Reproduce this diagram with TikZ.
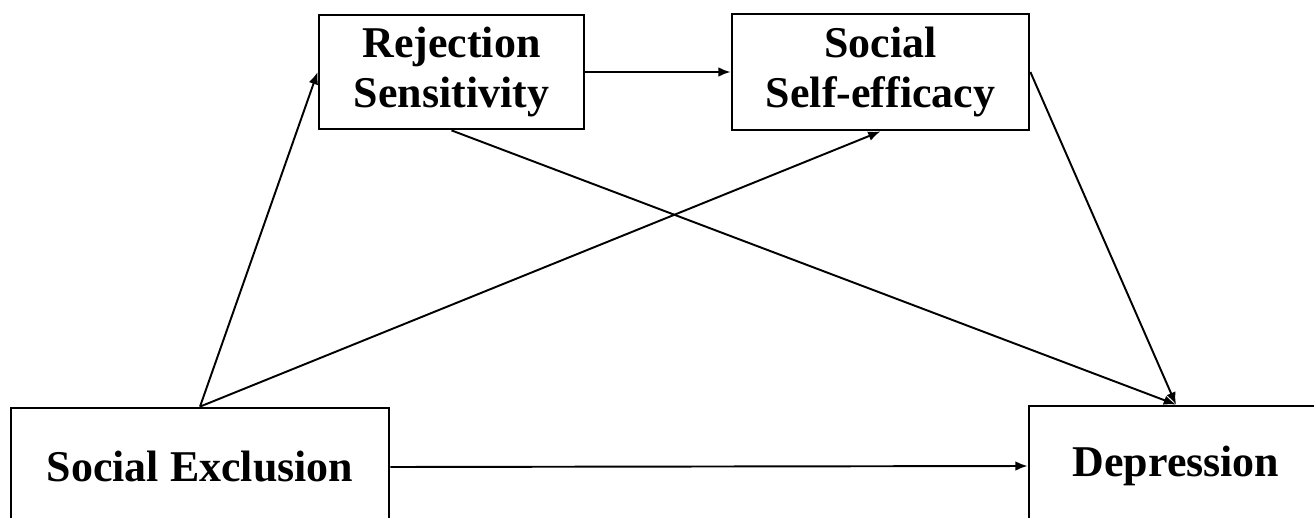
\documentclass[tikz,border=0pt]{standalone}
\usepackage{fontspec}
\setmainfont{Liberation Serif}
\usetikzlibrary{arrows.meta}
\begin{document}
\begin{tikzpicture}[x=0.02cm, y=-0.02cm, font=\bfseries\fontsize{25}{29}\selectfont,
        box/.style={draw, line width=1.6pt, rectangle, align=center, inner sep=0pt},
        path/.style={line width=1.1pt, -{Latex[length=7pt, width=5.5pt]}}]
    \useasboundingbox (0,0) rectangle (1314,517);
    \clip (0,0) rectangle (1314,517);
    \node[box, minimum width=7.56cm, minimum height=2.36cm] (exclusion) at (200,467) {Social Exclusion};
    \node[box, minimum width=5.88cm, minimum height=2.4cm] (depression) at (1176,466) {Depression};
    \node[box, minimum width=5.3cm, minimum height=2.28cm] (rejection) at (451.5,72) {Rejection\\Sensitivity};
    \node[box, minimum width=5.94cm, minimum height=2.32cm] (efficacy) at (880.5,72) {Social\\Self-efficacy};
    \draw[path] (exclusion.north) -- (rejection.west);
    \draw[path] (exclusion.north) -- (efficacy.south);
    \draw[path] (rejection.east) -- (efficacy.west);
    \draw[path] (rejection.south) -- (depression.north);
    \draw[path] (efficacy.east) -- (depression.north);
    \draw[path] (exclusion.east) -- (depression.west);
\end{tikzpicture}
\end{document}
